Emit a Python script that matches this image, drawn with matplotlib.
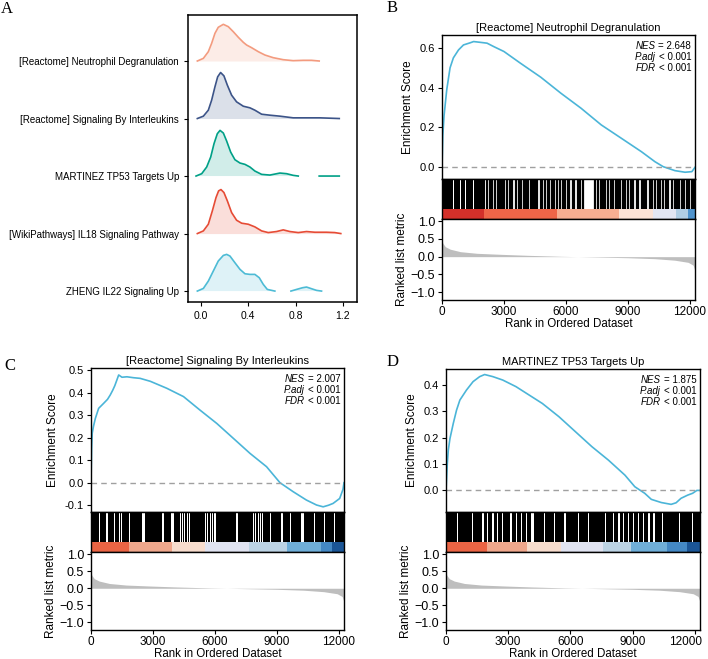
import matplotlib
matplotlib.use("Agg")
import matplotlib.pyplot as plt
import matplotlib.transforms as mtransforms
import numpy as np

plt.rcParams['font.family'] = ['Liberation Sans', 'DejaVu Sans']

nan = np.nan

# ---------------- panel A: ridgeline data ----------------
ridge_names = ['[Reactome] Neutrophil Degranulation',
               '[Reactome] Signaling By Interleukins',
               'MARTINEZ TP53 Targets Up',
               '[WikiPathways] IL18 Signaling Pathway',
               'ZHENG IL22 Signaling Up']
ridge_colors = ['#F39B7F', '#3C5488', '#00A087', '#E64B35', '#4DBBD5']

neut_x = [-0.031, 0.020, 0.062, 0.090, 0.118, 0.146, 0.189, 0.231, 0.273, 0.316, 0.358, 0.386, 0.428, 0.485,
          0.541, 0.611, 0.696, 0.780, 0.865, 0.935, 1.000]
neut_y = [0, 0.046, 0.162, 0.307, 0.481, 0.586, 0.638, 0.597, 0.510, 0.412, 0.325, 0.278, 0.232, 0.162,
          0.104, 0.058, 0.023, 0.006, 0.012, 0.012, 0]
inter_x = [-0.031, 0.020, 0.062, 0.090, 0.118, 0.141, 0.166, 0.194, 0.223, 0.259, 0.301, 0.358, 0.414, 0.456,
           0.513, 0.583, 0.668, 0.780, 0.893, 1.006, 1.170]
inter_y = [0, 0.041, 0.145, 0.319, 0.551, 0.725, 0.800, 0.742, 0.580, 0.406, 0.290, 0.214, 0.186, 0.145,
           0.075, 0.058, 0.041, 0.012, 0.012, 0.012, 0]
tp53_x = [-0.042, 0.006, 0.048, 0.082, 0.110, 0.138, 0.161, 0.189, 0.217, 0.251, 0.287, 0.330, 0.372, 0.414,
          0.456, 0.513, 0.583, 0.668, 0.724, 0.780, 0.823, nan, 1.000, 1.170]
tp53_y = [0, 0.041, 0.157, 0.330, 0.562, 0.736, 0.794, 0.748, 0.609, 0.417, 0.284, 0.226, 0.203, 0.157,
          0.087, 0.029, 0.017, 0.052, 0.041, 0.012, 0, nan, 0, 0]
il18_x = [-0.031, 0.020, 0.062, 0.096, 0.127, 0.149, 0.169, 0.194, 0.223, 0.259, 0.301, 0.344, 0.400, 0.456,
          0.513, 0.569, 0.639, 0.696, 0.752, 0.823, 0.893, 0.963, 1.062, 1.132, 1.183]
il18_y = [0, 0.046, 0.162, 0.394, 0.626, 0.742, 0.765, 0.713, 0.568, 0.365, 0.232, 0.180, 0.162, 0.116,
          0.046, 0.017, 0.035, 0.064, 0.035, 0.017, 0.035, 0.023, 0.023, 0.017, 0]
il22_x = [-0.031, 0.020, 0.062, 0.104, 0.146, 0.189, 0.217, 0.245, 0.287, 0.330, 0.372, 0.414, 0.456, 0.493,
          0.527, 0.561, 0.625, nan, 0.761, 0.809, 0.859, 0.893, 0.935, 0.978, 1.020]
il22_y = [0, 0.046, 0.174, 0.348, 0.522, 0.620, 0.638, 0.609, 0.493, 0.377, 0.301, 0.290, 0.290, 0.232,
          0.116, 0.029, 0, nan, 0, 0.029, 0.058, 0.070, 0.041, 0.012, 0]

ridge_x = [neut_x, inter_x, tp53_x, il18_x, il22_x]
ridge_y = [neut_y, inter_y, tp53_y, il18_y, il22_y]

# ---------------- GSEA panels ----------------
n_genes = 12250

# ranked list metric (same ordered dataset for all panels)
ranked_rank = [0, 40, 160, 400, 890, 1700, 2840, 4140, 5760, 7380, 9000, 10300, 11270, 11920, 12160, 12250]
ranked_val = [0.47, 0.38, 0.28, 0.21, 0.14, 0.094, 0.066, 0.038, 0.01, -0.01, -0.03, -0.057, -0.10, -0.16,
              -0.24, -0.40]

# B
title_b = '[Reactome] Neutrophil Degranulation'
stats_b = ['= 2.648', '< 0.001', '< 0.001']
es_b_rank = [0, 40, 100, 230, 390, 550, 800, 1040, 1370, 1530, 1700, 2180, 2500, 3000, 3800, 4780, 5760, 6730,
             7710, 8680, 9660, 10310, 10710, 11280, 11770, 12100, 12250]
es_b_score = [0, 0.16, 0.26, 0.39, 0.50, 0.55, 0.59, 0.615, 0.626, 0.632, 0.63, 0.624, 0.607, 0.582, 0.523, 0.453,
              0.372, 0.297, 0.213, 0.146, 0.078, 0.028, 0.003, -0.017, -0.025, -0.022, 0.0]
hits_b_blocks = [(0, 2100)]
hits_b_gaps = [(540, 570), (870, 900), (1110, 1140), (1510, 1550), (1680, 1710)]
hits_b_lines = [2180, 2310, 2420, 2590, 2700, 2830, 2910, 3020, 3160, 3290, 3400, 3560, 3720, 3810, 3970, 4050,
                4160, 4290, 4420, 4500, 4620, 4780, 4860, 4980, 5110, 5190, 5350, 5430, 5590, 5720, 5840, 5950,
                6080, 6160, 6330, 6410, 6570, 6700, 6810,
                7410, 7550, 7680, 7790, 7900, 8030, 8160, 8280, 8440, 8520, 8600, 8760, 8850, 9010, 9140, 9250,
                9420, 9500, 9660, 9790, 9900, 10070, 10150, 10310, 10470, 10550, 10720, 10830, 10960, 11120,
                11290, 11370, 11480, 11610, 11740, 11850, 11970, 12100, 12220]
bar_b_edges = [0, 2030, 5580, 8580, 10200, 11330, 11900, 12250]
bar_b_colors = ['#D3302A', '#EF6548', '#F7AE92', '#FBE2D6', '#E3E6F3', '#B0CDE4', '#4F93CC']
es_b_ticks = [0.0, 0.2, 0.4, 0.6]
es_b_lim = (-0.059, 0.665)

# C
title_c = '[Reactome] Signaling By Interleukins'
stats_c = ['= 2.007', '< 0.001', '< 0.001']
es_c_rank = [0, 30, 60, 120, 210, 370, 610, 800, 930, 1050, 1150, 1250, 1340, 1500, 1740, 2050, 2380, 2870, 3670,
             4480, 5280, 6090, 6890, 7700, 8500, 9150, 9790, 10430, 10920, 11240, 11500, 11720, 12040, 12200, 12250]
es_c_score = [0, 0.15, 0.22, 0.25, 0.285, 0.33, 0.352, 0.37, 0.389, 0.41, 0.43, 0.455, 0.478, 0.468, 0.47, 0.466,
              0.463, 0.450, 0.419, 0.382, 0.322, 0.263, 0.197, 0.130, 0.071, 0.0, -0.04, -0.077, -0.099, -0.107,
              -0.100, -0.092, -0.07, -0.030, 0.0]
hits_c_blocks = [(0, 12250)]
hits_c_gaps = [(374, 423), (732, 846), (1106, 1138), (1350, 1398), (1447, 1512), (1821, 1902), (2488, 2602),
               (3415, 3512), (3854, 4000), (4293, 4341), (4406, 4455), (4520, 4569), (4634, 4683), (4732, 4781),
               (5024, 5057), (5268, 5301), (5512, 5561), (5626, 5675), (5740, 5789), (5854, 5902), (5967, 6032),
               (6325, 6358), (6569, 6602), (6813, 6846), (7024, 7122), (7837, 7886), (7951, 8000), (8065, 8114),
               (8179, 8228), (8293, 8341), (8683, 8716), (9203, 9301), (9659, 9691), (10146, 10325),
               (10797, 10829), (11268, 11333), (11772, 11805)]
hits_c_lines = []
bar_c_edges = [0, 1820, 3900, 5520, 7630, 9500, 11120, 11690, 12250]
bar_c_colors = ['#EA6444', '#EFA78C', '#F7DCCD', '#E0E3F1', '#BCD3E4', '#6FAED8', '#4488C4', '#1B5596']
es_c_ticks = [-0.1, 0.0, 0.1, 0.2, 0.3, 0.4, 0.5]
es_c_lim = (-0.130, 0.509)

# D
title_d = 'MARTINEZ TP53 Targets Up'
stats_d = ['= 1.875', '< 0.001', '< 0.001']
es_d_rank = [0, 64, 111, 191, 350, 509, 669, 987, 1305, 1624, 1863, 2261, 2738, 3375, 4012, 4649, 5445, 6241,
             7037, 7833, 8629, 9106, 9584, 9902, 10380, 10857, 11096, 11335, 11653, 11892, 12099, 12250]
es_d_score = [0, 0.103, 0.153, 0.197, 0.254, 0.305, 0.343, 0.381, 0.413, 0.432, 0.44, 0.432, 0.419, 0.394, 0.362,
              0.330, 0.280, 0.223, 0.166, 0.115, 0.058, 0.014, -0.011, -0.034, -0.046, -0.053, -0.047, -0.030,
              -0.018, -0.011, 0.0, 0.0]
hits_d_blocks = [(0, 12250)]
hits_d_gaps = [(534, 567), (858, 891), (1263, 1295), (1716, 1846), (1992, 2040), (2234, 2299), (2477, 2526),
               (2720, 2769), (3092, 3173), (3368, 3416), (3611, 3675), (3854, 3902), (4080, 4226), (4744, 4792),
               (5230, 5278), (5715, 5764), (6363, 6411), (6849, 6897), (7658, 7723), (8063, 8111), (8289, 8386),
               (8548, 8597), (8791, 8840), (9034, 9082), (9277, 9325), (9520, 9568), (9747, 9828), (9990, 10070),
               (10410, 10459), (11220, 11268), (11867, 11916)]
hits_d_lines = []
bar_d_edges = [0, 1976, 3925, 5540, 7560, 8940, 10640, 11610, 12250]
bar_d_colors = ['#EA6444', '#EFA78C', '#F7DCCD', '#E0E3F1', '#BCD3E4', '#6FAED8', '#4488C4', '#1B5596']
es_d_ticks = [0.0, 0.1, 0.2, 0.3, 0.4]
es_d_lim = (-0.082, 0.461)

W, H = 708, 659
fig = plt.figure(figsize=(W / 100, H / 100), dpi=100)
renderer = fig.canvas.get_renderer()


def box(x0, y0, x1, y1):
    # pixel box (top-left origin) -> figure fraction rect
    return [x0 / W, 1 - y1 / H, (x1 - x0) / W, (y1 - y0) / H]


# ---------------- panel A ----------------
axA = fig.add_axes(box(188, 15, 357, 302))
n = len(ridge_names)
for i in range(n):
    base = n - 1 - i
    x = np.array(ridge_x[i], dtype=float)
    y = np.array(ridge_y[i], dtype=float) + base
    axA.fill_between(x, base, y, color=ridge_colors[i], alpha=0.18, lw=0)
    axA.plot(x, y, color=ridge_colors[i], lw=1.2, solid_joinstyle='round')
axA.set_yticks(range(n - 1, -1, -1))
axA.set_yticklabels(ridge_names, fontsize=7)
axA.set_ylim(-0.19, 4.8)
axA.set_xlim(-0.11, 1.32)
axA.set_xticks([0.0, 0.4, 0.8, 1.2])
axA.set_xticklabels(['0.0', '0.4', '0.8', '1.2'], fontsize=7.5)
axA.tick_params(length=3, width=0.8)
for s in axA.spines.values():
    s.set_linewidth(1.1)


def stat_line(ax, yfrac, key, rest):
    t = ax.text(0.985, yfrac, rest, transform=ax.transAxes, ha='right', va='top', fontsize=7)
    w = t.get_window_extent(renderer).width * 72 / fig.dpi
    ax.annotate(key, xy=(0.985, yfrac), xycoords='axes fraction', xytext=(-w - 2, 0),
                textcoords='offset points', ha='right', va='top', fontsize=7, style='italic')


def gsea_panel(xs, tops, title, stats, es_rank, es_score, blocks, gaps, lines, edges, colors, ticks, lim):
    x0, x1 = xs
    es_top, es_bot, hit_bot, rk_bot = tops
    ax1 = fig.add_axes(box(x0, es_top, x1, es_bot))
    ax2 = fig.add_axes(box(x0, es_bot, x1, hit_bot))
    ax3 = fig.add_axes(box(x0, hit_bot, x1, rk_bot))

    ax1.plot(es_rank, es_score, color='#4BB5D8', lw=1.2)
    ax1.axhline(0, color='#A0A0A0', lw=1.0, ls=(0, (4, 3)))
    ax1.set_xlim(0, n_genes)
    ax1.set_ylim(*lim)
    ax1.set_yticks(ticks)
    ax1.set_yticklabels(['%.1f' % t for t in ticks], fontsize=8)
    ax1.set_xticks([])
    ax1.set_ylabel('Enrichment Score', fontsize=8.5)
    ax1.set_title(title, fontsize=8, pad=3)
    for k, (key, yf) in enumerate([('NES', 0.958), ('P.adj', 0.882), ('FDR', 0.806)]):
        stat_line(ax1, yf, key, stats[k])

    ax2.broken_barh([(a, b - a) for a, b in blocks], (0.25, 0.75), facecolors='black')
    if gaps:
        ax2.broken_barh([(a, b - a) for a, b in gaps], (0.25, 0.75), facecolors='white')
    if lines:
        ax2.vlines(lines, 0.25, 1, color='black', lw=1.6)
    ax2.broken_barh([(edges[k], edges[k + 1] - edges[k]) for k in range(len(colors))], (0, 0.25),
                    facecolors=colors)
    ax2.set_xlim(0, n_genes)
    ax2.set_ylim(0, 1)
    ax2.set_xticks([])
    ax2.set_yticks([])

    ax3.fill_between(ranked_rank, 0, ranked_val, color='#BEBEBE', lw=0)
    ax3.set_xlim(0, n_genes)
    ax3.set_ylim(-1.22, 1.06)
    ax3.set_yticks([-1.0, -0.5, 0.0, 0.5, 1.0])
    ax3.set_yticklabels(['\u22121.0', '\u22120.5', '0.0', '0.5', '1.0'], fontsize=9)
    ax3.set_xticks([0, 3000, 6000, 9000, 12000])
    ax3.set_xticklabels(['0', '3000', '6000', '9000', '12000'], fontsize=8.5)
    ax3.set_ylabel('Ranked list metric', fontsize=8.5, labelpad=2)
    ax3.set_xlabel('Rank in Ordered Dataset', fontsize=8.3, labelpad=0.5)
    for ax in (ax1, ax2, ax3):
        ax.tick_params(length=3, width=0.8, pad=2)
        for s in ax.spines.values():
            s.set_linewidth(1.0)
    ax3.tick_params(axis='x', pad=1)
    return ax3


gsea_panel((442, 695), (35, 179, 219, 300), title_b, stats_b, es_b_rank, es_b_score,
           hits_b_blocks, hits_b_gaps, hits_b_lines, bar_b_edges, bar_b_colors, es_b_ticks, es_b_lim)
gsea_panel((91, 344), (368, 512, 552, 630), title_c, stats_c, es_c_rank, es_c_score,
           hits_c_blocks, hits_c_gaps, hits_c_lines, bar_c_edges, bar_c_colors, es_c_ticks, es_c_lim)
axD3 = gsea_panel((446, 700), (369, 512, 552, 630), title_d, stats_d, es_d_rank, es_d_score,
                  hits_d_blocks, hits_d_gaps, hits_d_lines, bar_d_edges, bar_d_colors, es_d_ticks, es_d_lim)
# keep the last tick label of panel D inside the figure edge
last = axD3.get_xticklabels()[-1]
last.set_transform(last.get_transform() + mtransforms.ScaledTranslation(-7 / 72, 0, fig.dpi_scale_trans))

# panel letters
for lab, px, py in [('A', 7, 9), ('B', 392, 8), ('C', 10, 366), ('D', 393, 362)]:
    fig.text(px / W, 1 - py / H, lab, family='Liberation Serif', fontsize=12, ha='center', va='center')

fig.savefig('out.png', dpi=100)
